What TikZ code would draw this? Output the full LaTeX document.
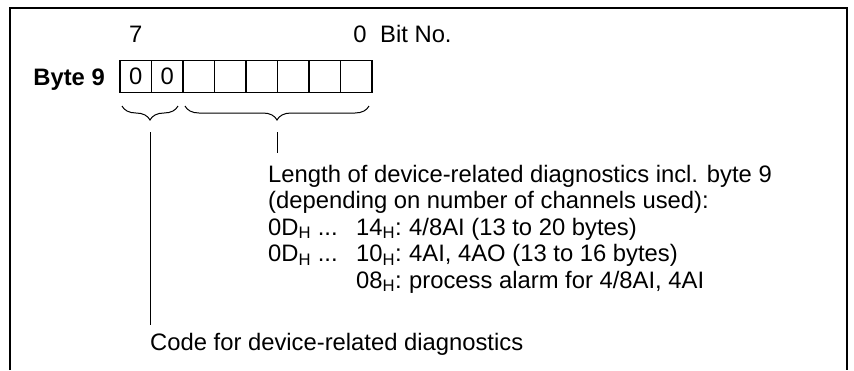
\documentclass[tikz,border=0pt]{standalone}
\usepackage{fontspec}
\setmainfont{Liberation Sans}
\usetikzlibrary{positioning,decorations.pathreplacing}

\begin{document}
\begin{tikzpicture}[x=1pt,y=-1pt,font=\fontsize{23.8}{26.5}\selectfont,
  bitcell/.style={draw,line width=1.3pt,minimum width=31.5pt,minimum height=32pt,inner sep=0pt,outer sep=0pt},
  bracebelow/.style={decorate,decoration={brace,mirror,amplitude=14pt},line width=1pt},
  txt/.style={anchor=base west,inner sep=0pt}]
\useasboundingbox (0,0) rectangle (854,370);
% frame, open at the bottom
\draw[line width=1.3pt] (10,370) -- (10,8) -- (847,8) -- (847,370);
% the byte
\node[anchor=base east,inner sep=0pt,font=\fontsize{23.8}{26.5}\selectfont\bfseries] (byte) at (105,85) {Byte 9};
\node[bitcell] (b7) at (135.75,76.7) {0};
\node[bitcell,right=0pt of b7] (b6) {0};
\foreach \i/\j in {6/5,5/4,4/3,3/2,2/1,1/0}
  \node[bitcell,right=0pt of b\i] (b\j) {};
\node[anchor=base,inner sep=0pt] (n7) at (135.75,42) {7};
\node[anchor=base,inner sep=0pt] (n0) at (360,42) {0};
\node[txt] (bitno) at (380,42) {Bit No.};
% braces
\draw[bracebelow] (122,106) -- (178,106);
\draw[bracebelow] (185,106) -- (369,106);
\coordinate (codetop) at (150,132);
\coordinate (codeend) at (150,325);
\coordinate (lentop) at (277,132);
\coordinate (lenend) at (277,153);
\draw[line width=1pt] (codetop) -- (codeend);
\draw[line width=1pt] (lentop) -- (lenend);
% texts
\node[txt] (len1) at (268,182) {Length of device-related diagnostics incl. byte 9};
\node[txt] (len2) at (268,208.5) {(depending on number of channels used):};
\node[txt] (r1a) at (268,235) {0D\textsubscript{H} ...};
\node[txt] (r1b) at (356,235) {14\textsubscript{H}:};
\node[txt] (r1c) at (409,235) {4/8AI (13 to 20 bytes)};
\node[txt] (r2a) at (268,261.5) {0D\textsubscript{H} ...};
\node[txt] (r2b) at (356,261.5) {10\textsubscript{H}:};
\node[txt] (r2c) at (409,261.5) {4AI, 4AO (13 to 16 bytes)};
\node[txt] (r3b) at (356,288) {08\textsubscript{H}:};
\node[txt] (r3c) at (409,288) {process alarm for 4/8AI, 4AI};
\node[txt] (code) at (150,350) {Code for device-related diagnostics};
\end{tikzpicture}
\end{document}
